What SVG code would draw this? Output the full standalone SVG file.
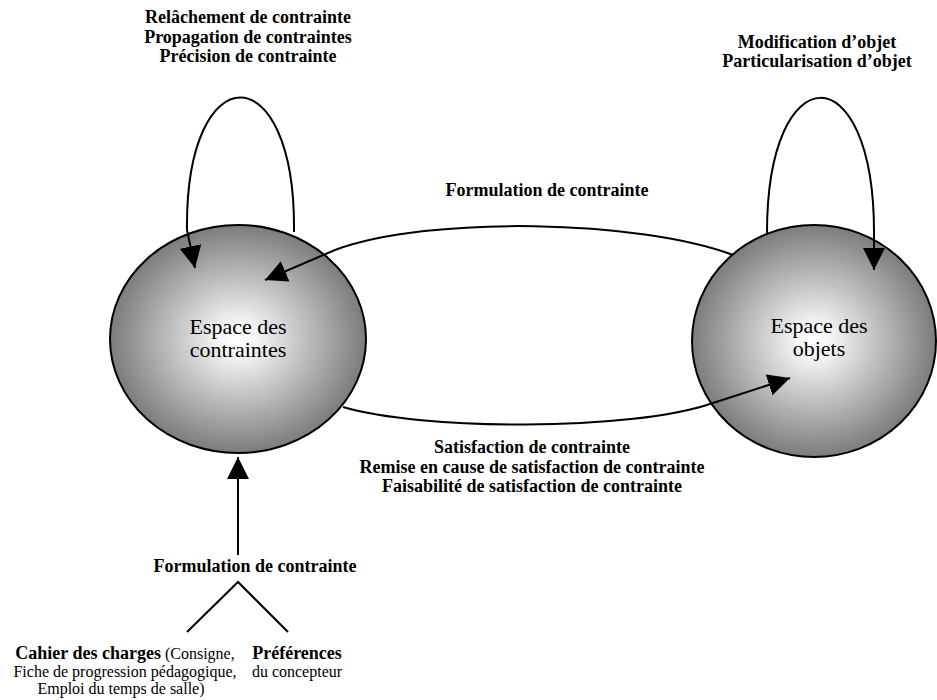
<svg xmlns="http://www.w3.org/2000/svg" width="937" height="700" viewBox="0 0 937 700">
<style>
text{font-family:"Liberation Serif","Times New Roman",serif;fill:#000;text-anchor:middle}
.b{font-weight:bold;font-size:18px}
.r{font-size:16px}
.big{font-size:22px}
.ln{fill:none;stroke:#000;stroke-width:2}
.nd{stroke:#000;stroke-width:2;fill:url(#g)}
</style>
<defs>
<radialGradient id="g" cx="0.5" cy="0.5" r="0.5">
<stop offset="0" stop-color="#ffffff"/>
<stop offset="0.15" stop-color="#f4f4f4"/>
<stop offset="1" stop-color="#7c7c7c"/>
</radialGradient>
<marker id="a" markerUnits="userSpaceOnUse" markerWidth="22" markerHeight="22" viewBox="0 0 20 20" refX="20" refY="10" orient="auto">
<path d="M0,0 L20,10 L0,20 Z" fill="#000"/>
</marker>
</defs>
<g id="n-contraintes">
<ellipse class="nd" cx="238" cy="339" rx="128" ry="114"/>
<text class="big" x="238" y="334">Espace des</text>
<text class="big" x="238" y="357">contraintes</text>
</g>
<g id="n-objets">
<ellipse class="nd" cx="814" cy="341" rx="122" ry="116"/>
<text class="big" x="819" y="333">Espace des</text>
<text class="big" x="819" y="356">objets</text>
</g>
<g id="connectors">
<path class="ln" d="M294 232 C296 53 185 53 187 230 L195 268" marker-end="url(#a)"/>
<path class="ln" d="M767 233 C767 53 874 53 874 232 L874 270" marker-end="url(#a)"/>
<path class="ln" d="M733 255 C640 220 430 215 335 250 L265 280" marker-end="url(#a)"/>
<path class="ln" d="M343 407 C420 430 630 432 713 403 L790 378" marker-end="url(#a)"/>
<path class="ln" d="M238 555 L238 457" marker-end="url(#a)"/>
<path class="ln" d="M187 632 L238 582 L288 632"/>
</g>
<g id="labels">
<text class="b" x="248" y="23">Relâchement de contrainte</text>
<text class="b" x="248" y="43">Propagation de contraintes</text>
<text class="b" x="248" y="62">Précision de contrainte</text>
<text class="b" x="817" y="48">Modification d’objet</text>
<text class="b" x="817" y="67">Particularisation d’objet</text>
<text class="b" x="547" y="196">Formulation de contrainte</text>
<text class="b" x="532" y="453">Satisfaction de contrainte</text>
<text class="b" x="532" y="473">Remise en cause de satisfaction de contrainte</text>
<text class="b" x="532" y="492">Faisabilité de satisfaction de contrainte</text>
<text class="b" x="255" y="572">Formulation de contrainte</text>
<text class="r" x="125" y="659"><tspan font-weight="bold" font-size="18">Cahier des charges</tspan> (Consigne,</text>
<text class="r" x="125" y="677">Fiche de progression pédagogique,</text>
<text class="r" x="121" y="694">Emploi du temps de salle)</text>
<text class="b" x="297" y="659">Préférences</text>
<text class="r" x="297" y="677">du concepteur</text>
</g>
</svg>
